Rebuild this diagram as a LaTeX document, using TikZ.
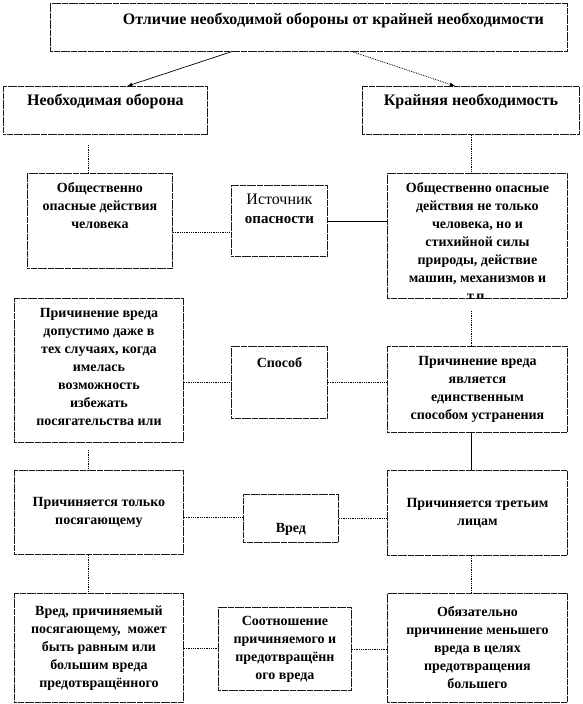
\documentclass[tikz,border=0pt]{standalone}
\usepackage{fontspec}
\setmainfont{Liberation Serif}
\newcommand{\cell}[5][0pt]{\parbox[c][#3][#4]{#2}{\centering\vspace*{#1}#5\par}}

\begin{document}
\begin{tikzpicture}[x=1pt, y=-1pt,
    box/.style={draw=black!90, line width=0.9pt, dash pattern=on 3pt off 0.4pt, anchor=north west, inner xsep=2pt, inner ysep=0pt, font=\bfseries\fontsize{14pt}{18pt}\selectfont},
    head/.style={box, font=\bfseries\fontsize{16pt}{19pt}\selectfont},
    link/.style={densely dotted, line width=0.8pt},
    solidlink/.style={line width=0.7pt}]
    \useasboundingbox (0,0) rectangle (582,704);
    \coordinate (lx) at (88,0);
    \coordinate (rx) at (471,0);
    \node[head] (ot) at (50,3) {\cell[10pt]{513pt}{48pt}{t}{\hspace*{49pt}Отличие необходимой обороны от крайней необходимости}};
    \node[head] (nb) at (3,86) {\cell[8pt]{200pt}{48pt}{t}{Необходимая оборона}};
    \node[head] (kn) at (362,86) {\cell[8pt]{213pt}{48pt}{t}{Крайняя необходимость}};
    \node[box] (od) at (27,173) {\cell[9pt]{141pt}{95pt}{t}{Общественно\\опасные действия\\человека}};
    \node[box, font=\bfseries\fontsize{15pt}{19pt}\selectfont] (src) at (231,185) {\cell[9pt]{92pt}{71pt}{t}{\mdseries\fontsize{16pt}{19pt}\selectfont Источник\\\bfseries\fontsize{15pt}{19pt}\selectfont опасности}};
    \begin{scope}
        \clip (380,160) rectangle (575,298.5);
        \node[box] (dn) at (387,173) {\cell[9pt]{176pt}{125pt}{t}{Общественно опасные\\действия не только\\человека, но и\\стихийной силы\\природы, действие\\машин, механизмов и\\т.п.}};
    \end{scope}
    \begin{scope}
        \clip (5,290) rectangle (190,442.5);
        \node[box] (l3) at (14,298) {\cell[10pt]{165pt}{144pt}{t}{Причинение вреда\\допустимо даже в\\тех случаях, когда\\имелась\\возможность\\избежать\\посягательства или}};
    \end{scope}
    \node[box] (sp) at (231,346) {\cell[11pt]{92pt}{72pt}{t}{Способ}};
    \node[box] (r3) at (387,346) {\cell[10pt]{176pt}{86pt}{t}{Причинение вреда\\является\\единственным\\способом устранения}};
    \node[box] (l4) at (14,470) {\cell{165pt}{84pt}{c}{Причиняется только\\посягающему}};
    \node[box] (vr) at (243,494) {\cell[29pt]{91pt}{48pt}{t}{Вред}};
    \node[box] (r4) at (387,470) {\cell{176pt}{85pt}{c}{Причиняется третьим\\лицам}};
    \node[box] (l5) at (14,593) {\cell{165pt}{109pt}{c}{Вред, причиняемый\\посягающему,\ \ может\\быть равным или\\большим вреда\\предотвращённого}};
    \node[box] (so) at (218,607) {\cell{129pt}{83pt}{c}{Соотношение\\причиняемого и\\предотвращённ\\ого вреда}};
    \node[box] (r5) at (387,593) {\cell{176pt}{109pt}{c}{Обязательно\\причинение меньшего\\вреда в целях\\предотвращения\\большего}};
    \draw[-latex, solidlink] ([xshift=-78pt]ot.south) -- ([xshift=22pt]nb.north);
    \draw[-latex, link] ([xshift=44pt]ot.south) -- ([xshift=-16pt]kn.north);
    \draw[link] (nb.south -| lx) ++(0,10) -- (od.north -| lx);
    \draw[link] (kn.south -| rx) -- (dn.north -| rx);
    \draw[link] (l3.south -| lx) ++(0,7) -- (l4.north -| lx);
    \draw[link] (l4.south -| lx) -- (l5.north -| lx);
    \draw[link] (dn.south -| rx) ++(0,12) -- (r3.north -| rx);
    \draw[solidlink] (r3.south -| rx) -- (r4.north -| rx);
    \draw[link] (r4.south -| rx) -- (r5.north -| rx);
    \draw[link] ([yshift=-11.5pt]od.east) -- ([yshift=-11.5pt]src.west);
    \draw[solidlink] (src.east) -- ([yshift=15pt]dn.west);
    \draw[link] ([yshift=-12pt]l3.east) -- (sp.west);
    \draw[link] (sp.east) -- ([yshift=7pt]r3.west);
    \draw[link] ([yshift=-5pt]l4.east) -- ([yshift=1pt]vr.west);
    \draw[link] (vr.east) -- ([yshift=-5.5pt]r4.west);
    \draw[link] (l5.east) -- (l5.east -| so.west);
    \draw[link] (so.east) -- (so.east -| r5.west);
\end{tikzpicture}
\end{document}
